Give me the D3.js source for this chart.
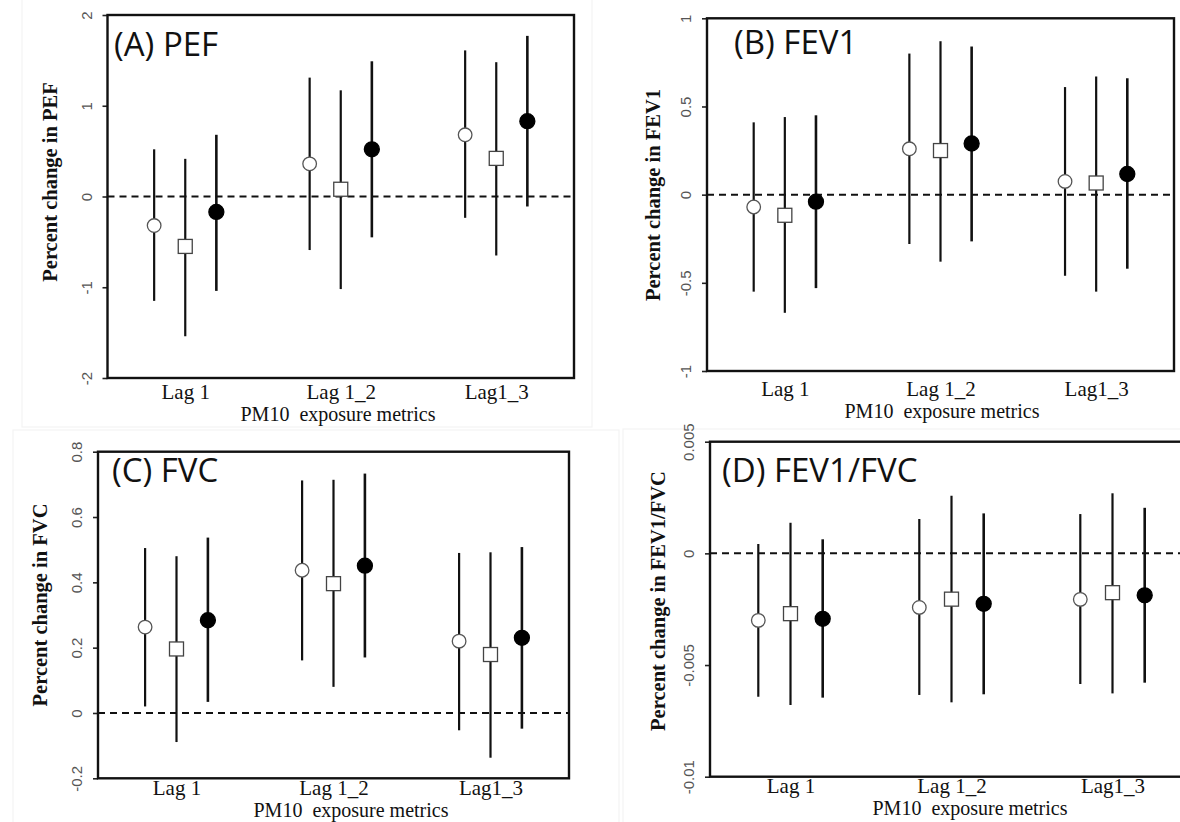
<!DOCTYPE html>
<html>
<head>
<meta charset="utf-8">
<script src="https://cdn.jsdelivr.net/npm/d3@7"></script>
<style>
  body { margin: 0; background: #fff; }
  svg { display: block; }
</style>
</head>
<body>
<svg id="chart" width="1180" height="822"></svg>
<script>
(function() {
    'use strict';

    // exposure windows and the three estimators (open circle, open square, filled circle)
    var categories = ["Lag 1", "Lag 1_2", "Lag1_3"];
    var series = ["circle", "square", "filled"];

    // values listed category by category: [Lag 1 x3, Lag 1_2 x3, Lag1_3 x3]
    var pefEst  = [-0.32, -0.55, -0.17, 0.36, 0.08, 0.52, 0.68, 0.42, 0.83];
    var pefLow  = [-1.15, -1.54, -1.04, -0.59, -1.02, -0.45, -0.235, -0.65, -0.11];
    var pefHigh = [0.52, 0.415, 0.68, 1.31, 1.17, 1.49, 1.61, 1.48, 1.77];

    var fev1Est  = [-0.07, -0.117, -0.04, 0.26, 0.25, 0.29, 0.075, 0.066, 0.117];
    var fev1Low  = [-0.55, -0.67, -0.53, -0.28, -0.38, -0.265, -0.46, -0.55, -0.42];
    var fev1High = [0.41, 0.44, 0.45, 0.80, 0.87, 0.84, 0.61, 0.67, 0.66];

    var fvcEst  = [0.263, 0.196, 0.284, 0.437, 0.396, 0.451, 0.22, 0.179, 0.23];
    var fvcLow  = [0.02, -0.089, 0.034, 0.161, 0.08, 0.17, -0.053, -0.137, -0.048];
    var fvcHigh = [0.505, 0.48, 0.537, 0.712, 0.714, 0.733, 0.49, 0.492, 0.508];

    var ratioEst  = [-0.0030, -0.0027, -0.00293, -0.00242, -0.00205, -0.00226, -0.00206, -0.00176, -0.00188];
    var ratioLow  = [-0.00642, -0.00679, -0.00646, -0.00634, -0.00667, -0.00631, -0.00585, -0.00627, -0.00579];
    var ratioHigh = [0.00042, 0.00137, 0.00063, 0.00154, 0.00258, 0.00179, 0.00176, 0.00269, 0.00204];

    var pefTicks = [-2, -1, 0, 1, 2];
    var fev1Ticks = [-1, -0.5, 0, 0.5, 1];
    var fvcTicks = [-0.2, 0, 0.2, 0.4, 0.6, 0.8];
    var ratioTicks = [-0.01, -0.005, 0, 0.005];

    var xTitle = "PM10  exposure metrics";

    function rows(est, low, high) {
        return est.map(function(v, i) {
            return {
                cat: Math.floor(i / series.length),
                ser: series[i % series.length],
                est: v, low: low[i], high: high[i]
            };
        });
    }

    var panels = [
        {label: "(A) PEF", ytitle: "Percent change in PEF", ticks: pefTicks,
         data: rows(pefEst, pefLow, pefHigh),
         left: 107.5, right: 574, top: 15, bottom: 378,
         titleX: 114, titleY: 56, yTitleX: 57, yTitleY: 182, catY: 399, xTitleX: 338, xTitleY: 421},
        {label: "(B) FEV1", ytitle: "Percent change in FEV1", ticks: fev1Ticks,
         data: rows(fev1Est, fev1Low, fev1High),
         left: 707, right: 1174, top: 18.3, bottom: 371,
         titleX: 734, titleY: 54, yTitleX: 660, yTitleY: 195, catY: 396, xTitleX: 942, xTitleY: 418},
        {label: "(C) FVC", ytitle: "Percent change in FVC", ticks: fvcTicks,
         data: rows(fvcEst, fvcLow, fvcHigh),
         left: 98, right: 569, top: 451.7, bottom: 778.3,
         titleX: 112, titleY: 482, yTitleX: 47, yTitleY: 605, catY: 795, xTitleX: 351, xTitleY: 817},
        {label: "(D) FEV1/FVC", ytitle: "Percent change in FEV1/FVC", ticks: ratioTicks,
         data: rows(ratioEst, ratioLow, ratioHigh),
         left: 710, right: 1193, top: 441.7, bottom: 776.7,
         titleX: 722, titleY: 482, yTitleX: 665, yTitleY: 601, catY: 793, xTitleX: 970, xTitleY: 815}
    ];

    var svg = d3.select("#chart");

    // faint edges of the pasted panel images
    var edges = [[22, -2, 570, 429], [13, 430, 606, 400], [623, 429, 600, 400]];
    svg.selectAll("rect.edge").data(edges).enter().append("rect")
        .attr("class", "edge")
        .attr("x", function(d) { return d[0]; })
        .attr("y", function(d) { return d[1]; })
        .attr("width", function(d) { return d[2]; })
        .attr("height", function(d) { return d[3]; })
        .attr("fill", "none")
        .attr("stroke", "#f4f4f4")
        .attr("stroke-width", 1.2);

    var offsets = {circle: -0.2, square: 0, filled: 0.2};

    function build_panel(p) {
        var g = svg.append("g");
        var x = d3.scaleLinear().domain([0.5, 3.5]).range([p.left, p.right]);
        var y = d3.scaleLinear().domain(d3.extent(p.ticks)).range([p.bottom, p.top]);

        // y axis, tick labels rotated as in R
        var yAxis = d3.axisLeft(y)
            .tickValues(p.ticks)
            .tickSize(5)
            .tickSizeOuter(0)
            .tickFormat(function(d) { return String(d); });
        var ya = g.append("g")
            .attr("transform", "translate(" + p.left + ",0)")
            .call(yAxis);
        ya.select(".domain").remove();
        ya.selectAll("line").attr("stroke", "#222").attr("stroke-width", 1.6);
        ya.selectAll("text")
            .attr("x", null).attr("dy", null)
            .attr("transform", "translate(-16,0) rotate(-90)")
            .attr("text-anchor", "middle")
            .attr("fill", "#555")
            .style("font-family", "'Liberation Sans', Arial, sans-serif")
            .style("font-size", "15px");

        // category labels
        var xAxis = d3.axisBottom(x)
            .tickValues([1, 2, 3])
            .tickSize(0)
            .tickFormat(function(d) { return categories[d - 1]; });
        var xa = g.append("g")
            .attr("transform", "translate(0," + p.bottom + ")")
            .call(xAxis);
        xa.select(".domain").remove();
        xa.selectAll("text")
            .attr("y", p.catY - p.bottom)
            .attr("dy", null)
            .attr("fill", "#111")
            .style("font-family", "'Liberation Serif', 'Times New Roman', serif")
            .style("font-size", "21px");

        // zero reference line
        g.append("line")
            .attr("x1", p.left).attr("x2", p.right)
            .attr("y1", y(0)).attr("y2", y(0))
            .attr("stroke", "#111")
            .attr("stroke-width", 2)
            .attr("stroke-dasharray", "7,5");

        // confidence intervals
        g.selectAll("line.ci").data(p.data).enter().append("line")
            .attr("class", "ci")
            .attr("x1", function(d) { return x(d.cat + 1 + offsets[d.ser]); })
            .attr("x2", function(d) { return x(d.cat + 1 + offsets[d.ser]); })
            .attr("y1", function(d) { return y(d.low); })
            .attr("y2", function(d) { return y(d.high); })
            .attr("stroke", "#111")
            .attr("stroke-width", function(d) { return d.ser === "filled" ? 2.6 : 2.2; });

        // point estimates
        var pts = p.data;
        g.selectAll("circle.pt").data(pts.filter(function(d) { return d.ser !== "square"; }))
            .enter().append("circle")
            .attr("class", "pt")
            .attr("cx", function(d) { return x(d.cat + 1 + offsets[d.ser]); })
            .attr("cy", function(d) { return y(d.est); })
            .attr("r", function(d) { return d.ser === "filled" ? 7.5 : 6.8; })
            .attr("fill", function(d) { return d.ser === "filled" ? "#000" : "#fff"; })
            .attr("stroke", function(d) { return d.ser === "filled" ? "#000" : "#555"; })
            .attr("stroke-width", 1.3);
        g.selectAll("rect.pt").data(pts.filter(function(d) { return d.ser === "square"; }))
            .enter().append("rect")
            .attr("class", "pt")
            .attr("x", function(d) { return x(d.cat + 1 + offsets[d.ser]) - 7; })
            .attr("y", function(d) { return y(d.est) - 7; })
            .attr("width", 14).attr("height", 14)
            .attr("fill", "#fff")
            .attr("stroke", "#444")
            .attr("stroke-width", 1.3);

        // frame
        g.append("rect")
            .attr("x", p.left).attr("y", p.top)
            .attr("width", p.right - p.left)
            .attr("height", p.bottom - p.top)
            .attr("fill", "none")
            .attr("stroke", "#111")
            .attr("stroke-width", 2.4);

        // titles
        g.append("text")
            .attr("x", p.titleX).attr("y", p.titleY)
            .attr("fill", "#111")
            .style("font-family", "'Open Sans', sans-serif")
            .style("font-size", "33px")
            .text(p.label);
        g.append("text")
            .attr("transform", "translate(" + p.yTitleX + "," + p.yTitleY + ") rotate(-90)")
            .attr("text-anchor", "middle")
            .attr("fill", "#111")
            .style("font-family", "'Liberation Serif', 'Times New Roman', serif")
            .style("font-weight", "bold")
            .style("font-size", "20.5px")
            .text(p.ytitle);
        g.append("text")
            .attr("x", p.xTitleX).attr("y", p.xTitleY)
            .attr("text-anchor", "middle")
            .attr("fill", "#111")
            .style("font-family", "'Liberation Serif', 'Times New Roman', serif")
            .style("font-size", "20px")
            .style("white-space", "pre")
            .text(xTitle);
    }

    panels.forEach(build_panel);
})();
</script>
</body>
</html>
